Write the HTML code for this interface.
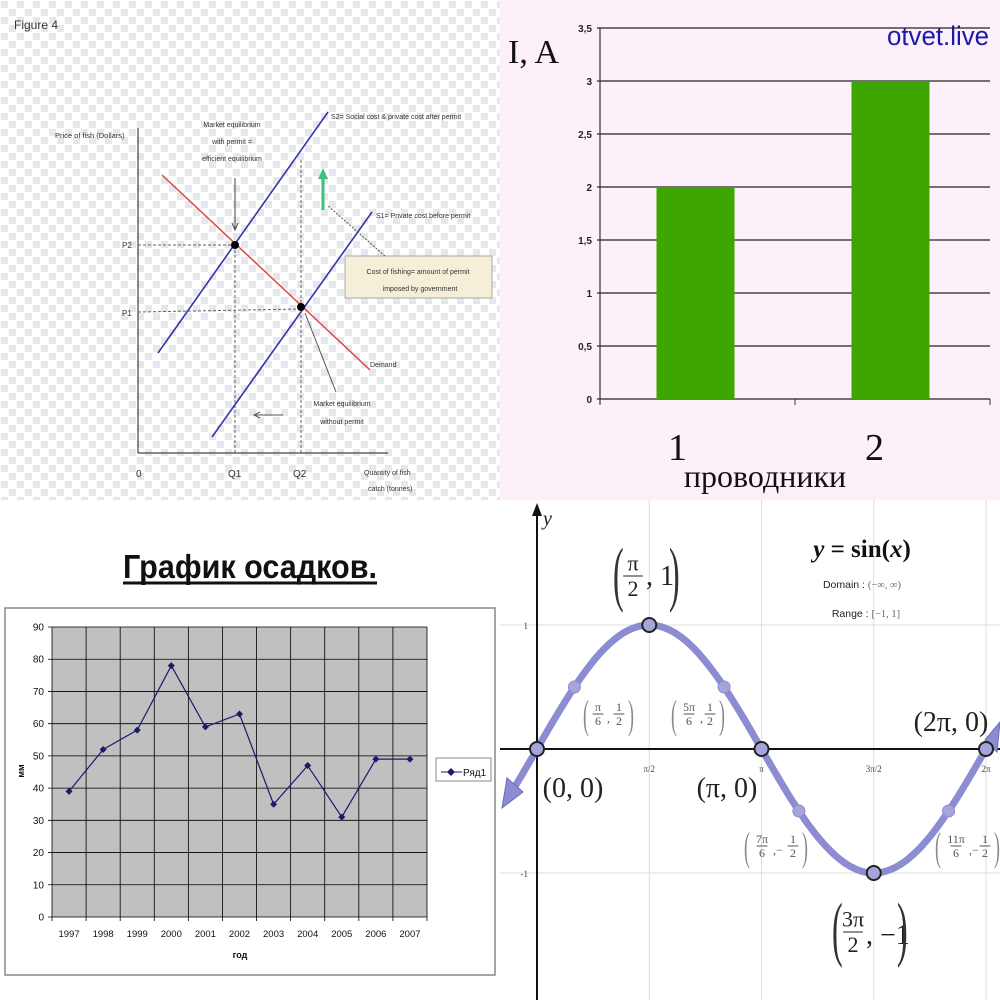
<!DOCTYPE html>
<html><head><meta charset="utf-8">
<style>
html,body{margin:0;padding:0;background:#fff;}
#root{position:relative;width:1000px;height:1000px;overflow:hidden;}
svg{position:absolute;left:0;top:0;}
.serif{font-family:"Liberation Serif",serif;}
.sans{font-family:"Liberation Sans","DejaVu Sans",sans-serif;}
</style></head>
<body>
<div id="root">
<svg id="s" width="1000" height="1000" viewBox="0 0 1000 1000" xmlns="http://www.w3.org/2000/svg">
<defs>
<pattern id="chk" width="16" height="16" patternUnits="userSpaceOnUse">
<rect width="16" height="16" fill="#ffffff"/>
<rect x="1" y="1" width="7" height="7" fill="#e6e7ec"/>
<rect x="9" y="9" width="7" height="7" fill="#e6e7ec"/>
</pattern>
</defs>

<g>
<rect x="0" y="0" width="500" height="500" fill="url(#chk)"/>
<text x="14" y="29" class="sans" font-size="12" fill="#333">Figure 4</text>
<line x1="138" y1="128" x2="138" y2="453" stroke="#444" stroke-width="1.2"/>
<line x1="138" y1="453" x2="388" y2="453" stroke="#444" stroke-width="1.2"/>
<text x="55" y="138" class="sans" font-size="7.5" fill="#333">Price of fish (Dollars)</text>
<text x="122" y="248" class="sans" font-size="8" fill="#333">P2</text>
<text x="122" y="316" class="sans" font-size="8" fill="#333">P1</text>
<text x="136" y="477" class="sans" font-size="10" fill="#333">0</text>
<text x="228" y="477" class="sans" font-size="10" fill="#333">Q1</text>
<text x="293" y="477" class="sans" font-size="10" fill="#333">Q2</text>
<text x="364" y="475" class="sans" font-size="7" fill="#333">Quantity of fish</text>
<text x="368" y="491" class="sans" font-size="7" fill="#333">catch (tonnes)</text>
<line x1="138" y1="245" x2="235" y2="245" stroke="#666" stroke-dasharray="3,2"/>
<line x1="138" y1="312" x2="301" y2="309" stroke="#666" stroke-dasharray="3,2"/>
<line x1="235" y1="245" x2="235" y2="453" stroke="#666" stroke-dasharray="3,2"/>
<line x1="301" y1="160" x2="301" y2="453" stroke="#666" stroke-dasharray="3,2"/>
<line x1="162" y1="175" x2="370" y2="370" stroke="#d44" stroke-width="1.5"/>
<line x1="158" y1="353" x2="328" y2="112" stroke="#3535a8" stroke-width="1.6"/>
<line x1="212" y1="437" x2="372" y2="212" stroke="#3535a8" stroke-width="1.6"/>
<circle cx="235" cy="245" r="4" fill="#000"/>
<circle cx="301" cy="307" r="4" fill="#000"/>
<text x="331" y="119" class="sans" font-size="7" fill="#333">S2= Social cost &amp; private cost after permit</text>
<text x="376" y="218" class="sans" font-size="7" fill="#333">S1= Private cost before permit</text>
<text x="370" y="367" class="sans" font-size="7" fill="#333">Demand</text>
<text x="232" y="127" text-anchor="middle" class="sans" font-size="7" fill="#333">Market equilibrium</text>
<text x="232" y="144" text-anchor="middle" class="sans" font-size="7" fill="#333">with permit =</text>
<text x="232" y="161" text-anchor="middle" class="sans" font-size="7" fill="#333">efficient equilibrium</text>
<line x1="235" y1="178" x2="235" y2="228" stroke="#444"/>
<polyline points="232,223 235,230 238,223" fill="none" stroke="#444"/>
<text x="342" y="406" text-anchor="middle" class="sans" font-size="7" fill="#333">Market equilibrium</text>
<text x="342" y="424" text-anchor="middle" class="sans" font-size="7" fill="#333">without permit</text>
<line x1="336" y1="392" x2="305" y2="313" stroke="#555"/>
<line x1="255" y1="415" x2="283" y2="415" stroke="#555"/>
<polyline points="260,412 254,415 260,418" fill="none" stroke="#555"/>
<rect x="345" y="256" width="147" height="42" fill="#f5efd8" stroke="#aaa"/>
<text x="418" y="274" text-anchor="middle" class="sans" font-size="7" fill="#333">Cost of fishing= amount of  permit</text>
<text x="420" y="291" text-anchor="middle" class="sans" font-size="7" fill="#333">imposed by government</text>
<line x1="385" y1="256" x2="327" y2="205" stroke="#555" stroke-dasharray="2,1.5"/>
<line x1="323" y1="210" x2="323" y2="176" stroke="#3fbf80" stroke-width="3"/>
<polygon points="318,179 323,168 328,179" fill="#3fbf80"/>
</g>

<g id="bars">
<rect x="500" y="0" width="500" height="500" fill="#fcf0fb"/>
<text x="508" y="63" class="serif" font-size="34" fill="#111">I, A</text>
<text x="887" y="45" class="sans" font-size="27" fill="#1a1aa8" textLength="102" lengthAdjust="spacingAndGlyphs">otvet.live</text>
<text x="765" y="487" text-anchor="middle" class="serif" font-size="32" fill="#111">проводники</text>
</g>

<g id="rain">
<text x="250" y="578" text-anchor="middle" class="sans" font-size="33" font-weight="bold" fill="#111" textLength="254" lengthAdjust="spacingAndGlyphs">График осадков.</text>
<line x1="123" y1="583" x2="377" y2="583" stroke="#111" stroke-width="3"/>
<rect x="5" y="608" width="490" height="367" fill="#fff" stroke="#888" stroke-width="1.5"/>
<text transform="translate(24,771) rotate(-90)" text-anchor="middle" class="sans" font-size="9" font-weight="bold" fill="#111">мм</text>
<text x="240" y="958" text-anchor="middle" class="sans" font-size="9" font-weight="bold" fill="#111">год</text>
<rect x="436" y="758" width="55" height="23" fill="#fff" stroke="#888"/>
<line x1="441" y1="772" x2="462" y2="772" stroke="#1a1a6e"/>
<polygon points="451,768 455,772 451,776 447,772" fill="#1a1a6e"/>
<text x="463" y="776" class="sans" font-size="10" fill="#111">Ряд1</text>
</g>

<g id="sine">
<text x="862" y="557" text-anchor="middle" class="serif" font-size="25" font-weight="bold" fill="#111"><tspan font-style="italic">y</tspan> = sin(<tspan font-style="italic">x</tspan>)</text>
<text x="862" y="588" text-anchor="middle" class="sans" font-size="10.5" fill="#222">Domain : <tspan class="serif" fill="#666">(−∞, ∞)</tspan></text>
<text x="866" y="617" text-anchor="middle" class="sans" font-size="10.5" fill="#222">Range : <tspan class="serif" fill="#666">[−1, 1]</tspan></text>
</g>
</svg>
</div>
<script>
// ===== bar chart data =====
const barCategories = ["1", "2"];
const barValues = [2, 3];
const barTicks = ["0","0,5","1","1,5","2","2,5","3","3,5"];
const barTickValues = [0,0.5,1,1.5,2,2.5,3,3.5];

// ===== precipitation data =====
const rainYears = ["1997","1998","1999","2000","2001","2002","2003","2004","2005","2006","2007"];
const rainValues = [39,52,58,78,59,63,35,47,31,49,49];
const rainTicks = [0,10,20,30,40,50,60,70,80,90];

// ===== sine key points =====
const sinePointX = [0, 1/6, 1/2, 5/6, 1, 7/6, 3/2, 11/6, 2]; // multiples of pi
const sinePointY = [0, 0.5, 1, 0.5, 0, -0.5, -1, -0.5, 0];
const sineTickLabels = ["π/2","π","3π/2","2π"];
const sineTickX = [0.5, 1, 1.5, 2];
const sineYTicks = [1, -1];
const sineYTickLabels = ["1","-1"];

const NS = "http://www.w3.org/2000/svg";
function mk(parent, tag, attrs, text){
  const e = document.createElementNS(NS, tag);
  for (const k in attrs) e.setAttribute(k, attrs[k]);
  if (text !== undefined) e.textContent = text;
  parent.appendChild(e);
  return e;
}

// ---- bar chart ----
(function(){
  const g = document.getElementById('bars');
  const x0 = 600, x1 = 990, y0 = 399, yTop = 28, vmax = 3.5;
  const yS = v => y0 - (y0 - yTop) * v / vmax;
  const band = (x1 - x0) / barCategories.length;
  barTickValues.forEach((v, i) => {
    const l = mk(g, 'line', {x1: x0-3, x2: x1, y1: yS(v), y2: yS(v), stroke: '#222', 'stroke-width': 1.3});
    
    
    const t = mk(g, 'text', {x: x0-8, y: yS(v)+4, 'text-anchor': 'end', 'font-size': 10, 'font-weight': 'bold', 'font-family': 'Liberation Sans, sans-serif', fill: '#222'}, barTicks[i]);
    
    
  });
  const ax = mk(g, 'line', {x1: x0, x2: x0, y1: yTop, y2: y0+5, stroke: '#333', 'stroke-width': 1.2});
  
  
  [x0, x0+band, x1].forEach(x => {
    const tk = mk(g, 'line', {x1: x, x2: x, y1: y0, y2: y0+6, stroke: '#333'});
    
    
  });
  barValues.forEach((v, i) => {
    const cx = x0 + band * (i + 0.5);
    const w = 78;
    const r = mk(g, 'rect', {x: cx - w/2 - 2, y: yS(v), width: w, height: y0 - yS(v), fill: '#3fa500'});
    
    
    const t = mk(g, 'text', {x: cx - 20 + i*2, y: 460, 'text-anchor': 'middle', 'font-size': 38, 'font-family': 'Liberation Serif, serif', fill: '#111'}, barCategories[i]);
    
    
  });
})();

// ---- precipitation chart ----
(function(){
  const g = document.getElementById('rain');
  const x0 = 52, x1 = 427, y0 = 917, yTop = 627, vmax = 90;
  const yS = v => y0 - (y0 - yTop) * v / vmax;
  const band = (x1 - x0) / rainYears.length;
  const xS = i => x0 + band * (i + 0.5);
  const bg = mk(g, 'rect', {x: x0, y: yTop, width: x1-x0, height: y0-yTop, fill: '#c0c0c0'});
  
  
  rainTicks.forEach(v => {
    const l = mk(g, 'line', {x1: x0-4, x2: x1, y1: yS(v), y2: yS(v), stroke: '#000', 'stroke-width': 0.8});
    
    
    const t = mk(g, 'text', {x: x0-8, y: yS(v)+3.5, 'text-anchor': 'end', 'font-size': 10, 'font-family': 'Liberation Sans, sans-serif', fill: '#111'}, String(v));
    
    
  });
  for (let i = 0; i <= rainYears.length; i++) {
    const x = x0 + band * i;
    const l = mk(g, 'line', {x1: x, x2: x, y1: yTop, y2: y0+4, stroke: '#000', 'stroke-width': 0.8});
    
    
  }
  rainYears.forEach((yr, i) => {
    const t = mk(g, 'text', {x: xS(i), y: 937, 'text-anchor': 'middle', 'font-size': 9.5, 'font-family': 'Liberation Sans, sans-serif', fill: '#111'}, yr);
    
    
  });
  const pts = rainValues.map((v, i) => xS(i) + ',' + yS(v)).join(' ');
  const pl = mk(g, 'polyline', {points: pts, fill: 'none', stroke: '#1a1a6e', 'stroke-width': 1.2});
  
  
  rainValues.forEach((v, i) => {
    const x = xS(i), y = yS(v);
    const p = mk(g, 'polygon', {points: `${x},${y-3.5} ${x+3.5},${y} ${x},${y+3.5} ${x-3.5},${y}`, fill: '#1a1a6e'});
    
    
  });
})();

// ---- sine graph ----
(function(){
  const g = document.getElementById('sine');
  const ox = 537, oy = 749, piPx = 224.5, unitPx = 124;
  const xS = m => ox + m * piPx;
  const yS = v => oy - v * unitPx;
  const first = g.firstChild;
  const grid = document.createElementNS(NS, 'g');
  g.insertBefore(grid, first);
  
  
  sineTickX.forEach(m => {
    const l = mk(grid, 'line', {x1: xS(m), x2: xS(m), y1: 500, y2: 1000, stroke: '#ddd', 'stroke-width': 1});
    
    
  });
  sineYTicks.forEach(v => {
    const l = mk(grid, 'line', {x1: 500, x2: 1000, y1: yS(v), y2: yS(v), stroke: '#ddd', 'stroke-width': 1});
    
    
  });
  const xa = mk(g, 'line', {x1: 500, x2: 1000, y1: oy, y2: oy, stroke: '#111', 'stroke-width': 2});
  
  
  const ya = mk(g, 'line', {x1: ox, x2: ox, y1: 508, y2: 1000, stroke: '#111', 'stroke-width': 2});
  
  
  const yh = mk(g, 'polygon', {points: `${ox-5},516 ${ox},503 ${ox+5},516`, fill: '#111'});
  
  
  const yl = mk(g, 'text', {x: 543, y: 525, 'font-size': 20, 'font-style': 'italic', 'font-family': 'Liberation Serif, serif', fill: '#222'}, 'y');
  
  
  sineTickX.forEach((m, i) => {
    const t = mk(g, 'text', {x: xS(m), y: 772, 'text-anchor': 'middle', 'font-size': 9, 'font-family': 'Liberation Serif, serif', fill: '#444'}, sineTickLabels[i]);
    
    
  });
  sineYTicks.forEach((v, i) => {
    const t = mk(g, 'text', {x: ox-9, y: yS(v)+4, 'text-anchor': 'end', 'font-size': 9, 'font-family': 'Liberation Serif, serif', fill: '#444'}, sineYTickLabels[i]);
    
    
  });
  let d = '';
  const steps = 200, mStart = -0.1, mEnd = 2.03;
  for (let k = 0; k <= steps; k++) {
    const m = mStart + (mEnd - mStart) * k / steps;
    const v = Math.sin(m * Math.PI);
    d += (k ? 'L' : 'M') + xS(m).toFixed(1) + ',' + yS(v).toFixed(1);
  }
  const c = mk(g, 'path', {d: d, fill: 'none', stroke: '#8c8cd2', 'stroke-width': 7, 'stroke-linecap': 'round'});
  
  
  const a1 = mk(g, 'polygon', {points: '502,808 507,778 523,792', fill: '#8c8cd2', stroke: '#6a6ab8'});
  
  
  const a2 = mk(g, 'polygon', {points: '1000,722 985,740 997,752', fill: '#8c8cd2', stroke: '#6a6ab8'});
  
  
  sinePointX.forEach((m, i) => {
    const big = Math.abs(sinePointY[i]) !== 0.5;
    const p = mk(g, 'circle', {cx: xS(m), cy: yS(sinePointY[i]), r: big ? 7 : 6, fill: '#a5a5dc', stroke: big ? '#222' : '#8c8cd2', 'stroke-width': big ? 2 : 1});
    
    
  });
  // simple coordinate labels
  const labs = [[573, 797, '(0, 0)'], [727, 797, '(π, 0)'], [951, 731, '(2π, 0)']];
  labs.forEach(L => {
    const t = mk(g, 'text', {x: L[0], y: L[1], 'text-anchor': 'middle', 'font-size': 28, 'font-family': 'Liberation Serif, serif', fill: '#222'}, L[2]);
    
    
  });
  // fraction-style labels: [leftParenX, topY, height, fontSize, color, items]
  function tallParen(x, top, h, ch, color){
    const t = mk(g, 'text', {x: 0, y: 0, 'font-size': 20, 'font-family': 'Liberation Serif, serif', fill: color,
      transform: `translate(${x},${top + h*0.8}) scale(${h/45},${h/20})`}, ch);
    
    
  }
  function frac(x, midY, num, den, s, color){
    const t1 = mk(g, 'text', {x: x, y: midY - s*0.25, 'text-anchor': 'middle', 'font-size': s, 'font-family': 'Liberation Serif, serif', fill: color}, num);
    
    
    const ln = mk(g, 'line', {x1: x - s*0.45, x2: x + s*0.45, y1: midY, y2: midY, stroke: color, 'stroke-width': 1});
    
    
    const t2 = mk(g, 'text', {x: x, y: midY + s*0.9, 'text-anchor': 'middle', 'font-size': s, 'font-family': 'Liberation Serif, serif', fill: color}, den);
    
    
  }
  function txt(x, y, s, str, color){
    const t = mk(g, 'text', {x: x, y: y, 'font-size': s, 'font-family': 'Liberation Serif, serif', fill: color}, str);
    
    
  }
  // (π/2, 1)
  tallParen(613, 540, 72, '(', '#333');
  frac(633, 576, 'π', '2', 22, '#222');
  txt(646, 585, 28, ', 1', '#222');
  tallParen(669, 540, 72, ')', '#333');
  // (3π/2, −1)
  tallParen(832, 895, 72, '(', '#333');
  frac(853, 932, '3π', '2', 22, '#222');
  txt(866, 944, 28, ', −1', '#222');
  tallParen(897, 895, 72, ')', '#333');
  // small ones
  const smalls = [
    [583, 696, 'π', '1', '', 628],
    [671, 696, '5π', '1', '', 719],
    [744, 828, '7π', '1', '−', 802],
    [935, 828, '11π', '1', '−', 994]
  ];
  smalls.forEach(S => {
    const col = '#555';
    tallParen(S[0], S[1], 40, '(', '#888');
    const n1x = S[0] + 15 + (S[2].length - 1) * 3;
    frac(n1x, S[1] + 18, S[2], '6', 12, col);
    txt(n1x + 9 + (S[2].length-1)*2, S[1] + 26, 12, ',' + S[4], col);
    frac(S[5] - 9, S[1] + 18, S[3], '2', 12, col);
    tallParen(S[5], S[1], 40, ')', '#888');
  });
})();
</script>
</body></html>
